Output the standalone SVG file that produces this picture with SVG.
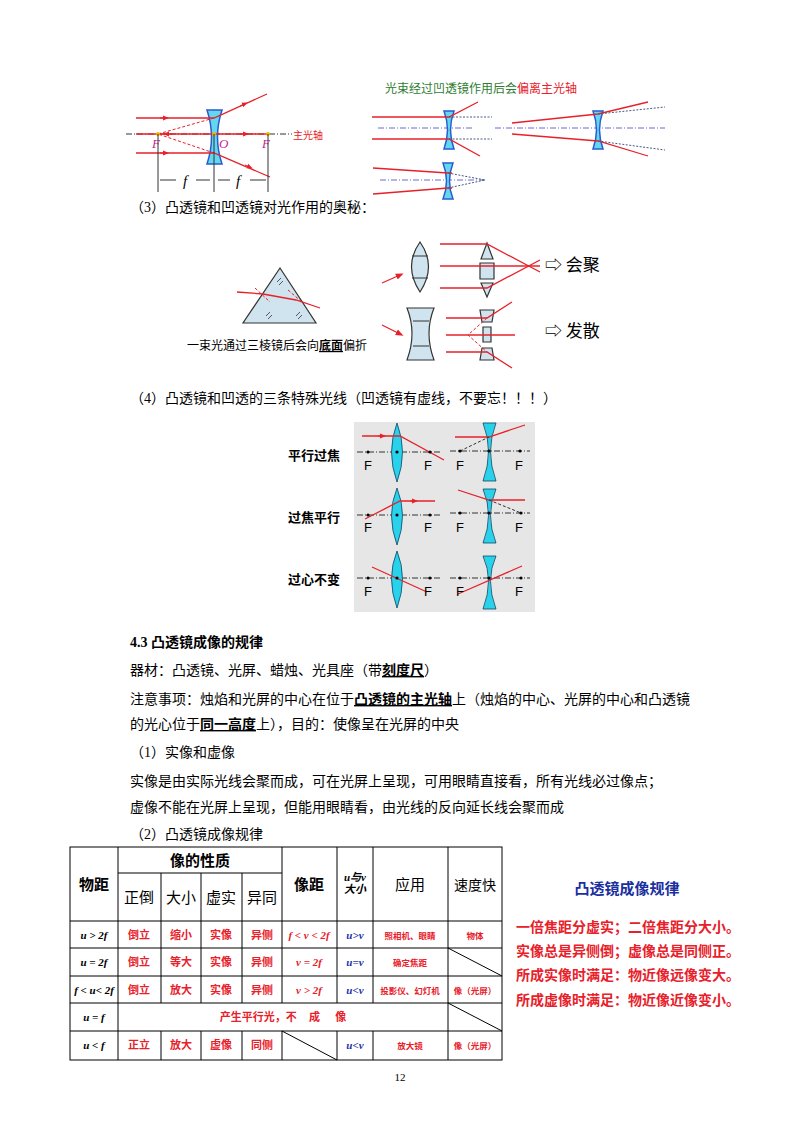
<svg xmlns="http://www.w3.org/2000/svg" width="800" height="1132" viewBox="0 0 800 1132">
<defs>
<marker id="ar" viewBox="0 0 10 10" refX="5" refY="5" markerWidth="6" markerHeight="6" orient="auto"><path d="M0,1 L10,5 L0,9 z" fill="#e8202a"/></marker>
<style>
text{font-family:"Liberation Serif","Noto Sans CJK SC",serif;fill:#000}
.t{font-size:14px}
.b{font-weight:bold;font-family:"Liberation Sans","Noto Sans CJK SC",sans-serif}
.r{stroke:#e8202a;stroke-width:1.3;fill:none}
.d{stroke:#e8202a;stroke-width:1;stroke-dasharray:3 2;fill:none}
.ax{stroke:#333;stroke-width:1;stroke-dasharray:6 2 1 2;fill:none}
.bax{stroke:#6b6bd6;stroke-width:1;stroke-dasharray:6 2 1 2;fill:none}
.bd{stroke:#4a5a80;stroke-width:1;stroke-dasharray:2 1.5;fill:none}
.lens{fill:#63d7ef;stroke:#2a5bd0;stroke-width:1.5}
.lensg{fill:#cfe4ee;stroke:#333;stroke-width:1.2}
.cy{fill:#28d2ea;stroke:#146;stroke-width:0.8}
.grid{stroke:#000;stroke-width:1;fill:none}
.red{fill:#e8202a;font-weight:bold;font-family:"Liberation Sans","Noto Sans CJK SC",sans-serif;font-size:11px}
.blu{fill:#2233aa;font-style:italic;font-weight:bold;font-size:11px}
.hd{font-size:15px;font-weight:bold}
.it{font-style:italic;font-weight:bold;font-size:11px}
.sf{font-family:"Liberation Sans",sans-serif;font-size:13px}
.arr{stroke:#e8202a;marker-end:url(#ar)}
</style>
</defs>
<rect width="800" height="1132" fill="#fff"/>

<g id="concave-main">
<line x1="126" y1="134" x2="292" y2="134" class="ax"/>
<path d="M207,110 L222,110 Q213,137 222,164 L207,164 Q216,137 207,110 z" class="lens"/>
<path d="M136,118 L214,118 L267,94" class="r"/><path d="M214,118 L158,134" class="d"/>
<path d="M136,153 L214,153 L270,177" class="r"/><path d="M214,153 L158,134" class="d"/>
<path d="M136,134 L268,134" class="r"/>
<path d="M160,118 l6,0" class="arr"/><path d="M160,153 l6,0" class="arr"/>
<path d="M240,106 l5,-2.2" class="arr"/><path d="M245,165 l5,2.2" class="arr"/>
<path d="M240,134 l6,0" class="arr"/><path d="M172,134 l-6,0" class="arr"/>
<circle cx="158" cy="134" r="2" fill="#f4b400"/><circle cx="214" cy="134" r="2" fill="#f4b400"/><circle cx="268" cy="134" r="2" fill="#f4b400"/>
<text x="152" y="148" font-size="13" font-style="italic" style="fill:#d02090">F</text>
<text x="219" y="148" font-size="13" font-style="italic" style="fill:#d02090">O</text>
<text x="262" y="148" font-size="13" font-style="italic" style="fill:#d02090">F</text>
<text x="293" y="139" font-size="10" style="fill:#e8202a">主光轴</text>
<path d="M158,134 V192 M214,134 V192 M268,134 V192" stroke="#333" fill="none"/>
<path d="M160,180 H176 M196,180 H210 M218,180 H230 M250,180 H266" stroke="#333"/>
<text x="183" y="186" font-size="15" font-style="italic">f</text><text x="236" y="186" font-size="15" font-style="italic">f</text>
</g>

<g id="concave-small">
<text x="385" y="93" font-size="12" style="fill:#2e7d32">光束经过凹透镜作用后会<tspan style="fill:#e8202a">偏离主光轴</tspan></text>
<line x1="378" y1="128" x2="472" y2="128" class="bax"/>
<path d="M444,111 L454,111 Q447,130 454,149 L444,149 Q451,130 444,111z" class="lens"/>
<path d="M372,117 L449,117 L478,102" class="r"/><path d="M449,117 H492" class="bd"/>
<path d="M372,139 L449,139 L480,156" class="r"/><path d="M449,139 H492" class="bd"/>
<line x1="495" y1="128" x2="665" y2="128" class="bax"/>
<path d="M593,111 L603,111 Q596,130 603,149 L593,149 Q600,130 593,111z" class="lens"/>
<path d="M512,123 L598,114 L648,102" class="r"/><path d="M598,114 L665,107" class="bd"/>
<path d="M512,134 L598,141 L648,156" class="r"/><path d="M598,141 L665,150" class="bd"/>
<line x1="380" y1="180" x2="485" y2="180" class="bax"/>
<path d="M443,163 L453,163 Q446,181 453,199 L443,199 Q450,181 443,163z" class="lens"/>
<path d="M373,168 L448,173 L452,173" class="r"/><path d="M448,173 L485,180" class="bd"/>
<path d="M373,194 L448,188 L452,188" class="r"/><path d="M448,188 L485,180" class="bd"/>
</g>

<text x="130" y="212" class="t">（3）凸透镜和凹透镜对光作用的奥秘：</text>

<g id="prism">
<path d="M280,268 L316,323 L243,323 z" fill="#cfe4ee" stroke="#333" stroke-width="1.2"/>
<path d="M237,292 L263,294 L296,300 L320,308" class="r"/>
<path d="M255,288 L270,302 M288,290 L302,302" class="d"/>
<path d="M277,282 l4,-4 M279,285 l4,-4 M266,316 l4,-4 M268,319 l4,-4 M296,316 l4,-4 M298,319 l4,-4" stroke="#555"/>
<text x="187" y="350" font-size="12">一束光通过三棱镜后会向<tspan font-weight="bold" text-decoration="underline">底面</tspan>偏折</text>
</g>

<g id="lens-group">
<path d="M420,242 Q437,266 420,292 Q403,266 420,242 z" class="lensg"/><path d="M412,256 H428 M412,278 H428" stroke="#333"/>
<path d="M407,308 L434,308 Q424,333 434,360 L407,360 Q417,333 407,308 z" class="lensg"/><path d="M413,321 H429 M413,346 H429" stroke="#333"/>
<path d="M382,283 L400,275" class="r" marker-end="url(#ar)"/><path d="M382,325 L400,334" class="r" marker-end="url(#ar)"/>
<path d="M487,243 L493,259 L481,259 z M480,263 H494 V279 H480 z M481,283 L493,283 L487,297 z" class="lensg"/>
<path d="M440,244 H487 L540,272" class="r"/><path d="M440,266 H540" class="r"/><path d="M440,288 H487 L540,260" class="r"/>
<path d="M480,310 H494 L492,322 H482 z M483,327 H491 V342 H483 z M482,348 H492 L494,360 H480 z" class="lensg"/>
<path d="M446,318 H487 L512,302" class="r"/><path d="M446,335 H515" class="r"/><path d="M446,352 H487 L512,368" class="r"/>
<path d="M487,318 L468,335 L487,352" class="d"/>
<text x="545" y="271" font-size="17" style="font-family:'Noto Sans CJK SC',sans-serif">⇨ 会聚</text>
<text x="545" y="337" font-size="17" style="font-family:'Noto Sans CJK SC',sans-serif">⇨ 发散</text>
</g>

<text x="130" y="403" class="t">（4）凸透镜和凹透的三条特殊光线（凹透镜有虚线，不要忘！！！）</text>

<g id="special-rays">
<rect x="354" y="422" width="181" height="190" fill="#e6e6e6"/>
<text x="288" y="460" class="b" font-size="13">平行过焦</text>
<text x="288" y="522" class="b" font-size="13">过焦平行</text>
<text x="288" y="584" class="b" font-size="13">过心不变</text>
<line x1="357" y1="452" x2="440" y2="452" class="ax"/><path d="M397,423 Q408,452 397,482 Q386,452 397,423z" class="cy"/>
<path d="M362,436 H400 L444,460" class="r"/><path d="M378,436 l5,0" class="arr"/>
<text x="364" y="470" class="sf">F</text><text x="424" y="470" class="sf">F</text><circle cx="368" cy="452" r="1.6"/><circle cx="430" cy="452" r="1.6"/><circle cx="397" cy="452" r="1.6"/>
<line x1="450" y1="451" x2="530" y2="451" class="ax"/><path d="M483,423 L496,423 Q485,451 496,481 L483,481 Q494,451 483,423z" class="cy"/>
<path d="M455,437 H489 L525,425" class="r"/><path d="M460,451 L489,437" stroke="#333" stroke-dasharray="3 2" fill="none"/>
<text x="456" y="470" class="sf">F</text><text x="515" y="470" class="sf">F</text><circle cx="460" cy="451" r="1.6"/><circle cx="489" cy="451" r="1.6"/><circle cx="520" cy="451" r="1.6"/>
<line x1="357" y1="515" x2="440" y2="515" class="ax"/><path d="M397,488 Q408,515 397,545 Q386,515 397,488z" class="cy"/>
<path d="M365,519 L400,501 H435" class="r"/><path d="M410,501 l5,0" class="arr"/>
<text x="364" y="532" class="sf">F</text><text x="424" y="532" class="sf">F</text><circle cx="368" cy="515" r="1.6"/><circle cx="430" cy="515" r="1.6"/><circle cx="397" cy="515" r="1.6"/>
<line x1="450" y1="513" x2="530" y2="513" class="ax"/><path d="M483,489 L496,489 Q485,515 496,543 L483,543 Q494,515 483,489z" class="cy"/>
<path d="M458,490 L489,500 H525" class="r"/><path d="M489,500 L521,513" stroke="#333" stroke-dasharray="3 2" fill="none"/>
<text x="456" y="532" class="sf">F</text><text x="515" y="532" class="sf">F</text><circle cx="460" cy="513" r="1.6"/><circle cx="489" cy="513" r="1.6"/><circle cx="521" cy="513" r="1.6"/>
<line x1="357" y1="578" x2="440" y2="578" class="ax"/><path d="M397,551 Q408,578 397,608 Q386,578 397,551z" class="cy"/>
<path d="M372,567 L427,592" class="r"/>
<text x="364" y="596" class="sf">F</text><text x="424" y="596" class="sf">F</text><circle cx="368" cy="578" r="1.6"/><circle cx="430" cy="578" r="1.6"/><circle cx="397" cy="578" r="1.6"/>
<line x1="450" y1="578" x2="530" y2="578" class="ax"/><path d="M483,556 L496,556 Q485,580 496,609 L483,609 Q494,580 483,556z" class="cy"/>
<path d="M458,594 L522,566" class="r"/>
<text x="456" y="596" class="sf">F</text><text x="515" y="596" class="sf">F</text><circle cx="460" cy="578" r="1.6"/><circle cx="489" cy="578" r="1.6"/><circle cx="521" cy="578" r="1.6"/>
</g>

<g id="text-43">
<text x="130" y="647" font-size="14" font-weight="bold">4.3 凸透镜成像的规律</text>
<text x="130" y="675" class="t">器材：凸透镜、光屏、蜡烛、光具座（带<tspan font-weight="bold" text-decoration="underline">刻度尺</tspan>）</text>
<text x="130" y="704" class="t">注意事项：烛焰和光屏的中心在位于<tspan font-weight="bold" text-decoration="underline">凸透镜的主光轴</tspan>上（烛焰的中心、光屏的中心和凸透镜</text>
<text x="130" y="729" class="t">的光心位于<tspan font-weight="bold" text-decoration="underline">同一高度</tspan>上），目的：使像呈在光屏的中央</text>
<text x="130" y="757" class="t">（1）实像和虚像</text>
<text x="130" y="786" class="t">实像是由实际光线会聚而成，可在光屏上呈现，可用眼睛直接看，所有光线必过像点；</text>
<text x="130" y="812" class="t">虚像不能在光屏上呈现，但能用眼睛看，由光线的反向延长线会聚而成</text>
<text x="130" y="839" class="t">（2）凸透镜成像规律</text>
</g>

<g id="table">
<rect x="70" y="847" width="432" height="213" class="grid" stroke-width="1.5"/>
<path d="M118,847 V1060 M282,847 V1003 M282,1031 V1060 M337,847 V1003 M337,1031 V1060 M373,847 V1003 M373,1031 V1060 M448,847 V1060" class="grid"/>
<path d="M161,873 V1003 M201,873 V1003 M242,873 V1003 M161,1031 V1060 M201,1031 V1060 M242,1031 V1060 M118,873 H282" class="grid"/>
<path d="M70,921 H502 M70,948 H502 M70,976 H502 M70,1003 H502 M70,1031 H502" class="grid"/>
<path d="M448,948 L502,976 M448,1003 L502,1031 M282,1031 L337,1060" class="grid"/>
<g text-anchor="middle">
<text x="94" y="890" class="hd">物距</text>
<text x="200" y="866" class="hd">像的性质</text>
<text x="139" y="903" font-size="15">正倒</text><text x="181" y="903" font-size="15">大小</text><text x="221" y="903" font-size="15">虚实</text><text x="262" y="903" font-size="15">异同</text>
<text x="309" y="890" class="hd">像距</text>
<text x="355" y="881" class="it" font-size="9">u与v</text><text x="355" y="893" class="it" font-size="9">大小</text>
<text x="410" y="890" font-size="15">应用</text>
<text x="475" y="890" font-size="14">速度快</text>
<text x="94" y="939" class="it">u &gt; 2f</text><text x="94" y="966" class="it">u = 2f</text><text x="94" y="994" class="it">f &lt; u&lt; 2f</text><text x="94" y="1021" class="it">u = f</text><text x="94" y="1049" class="it">u &lt; f</text>
<text x="139" y="939" class="red">倒立</text><text x="181" y="939" class="red">缩小</text><text x="221" y="939" class="red">实像</text><text x="262" y="939" class="red">异侧</text>
<text x="139" y="966" class="red">倒立</text><text x="181" y="966" class="red">等大</text><text x="221" y="966" class="red">实像</text><text x="262" y="966" class="red">异侧</text>
<text x="139" y="994" class="red">倒立</text><text x="181" y="994" class="red">放大</text><text x="221" y="994" class="red">实像</text><text x="262" y="994" class="red">异侧</text>
<text x="139" y="1049" class="red">正立</text><text x="181" y="1049" class="red">放大</text><text x="221" y="1049" class="red">虚像</text><text x="262" y="1049" class="red">同侧</text>
<text x="309" y="939" class="red" style="font-family:'Liberation Serif',serif;font-style:italic">f &lt; v &lt; 2f</text>
<text x="309" y="966" class="red" style="font-family:'Liberation Serif',serif;font-style:italic">v = 2f</text>
<text x="309" y="994" class="red" style="font-family:'Liberation Serif',serif;font-style:italic">v &gt; 2f</text>
<text x="355" y="939" class="blu">u&gt;v</text><text x="355" y="966" class="blu">u=v</text><text x="355" y="994" class="blu">u&lt;v</text><text x="355" y="1049" class="blu">u&lt;v</text>
<text x="410" y="939" class="red" style="font-size:8.5px">照相机、眼睛</text><text x="410" y="966" class="red" style="font-size:8.5px">确定焦距</text><text x="410" y="994" class="red" style="font-size:8.5px">投影仪、幻灯机</text><text x="410" y="1049" class="red" style="font-size:8.5px">放大镜</text>
<text x="475" y="939" class="red" style="font-size:8.5px">物体</text><text x="475" y="994" class="red" style="font-size:8.5px">像（光屏）</text><text x="475" y="1049" class="red" style="font-size:8.5px">像（光屏）</text>
<text x="283" y="1021" class="red" xml:space="preserve">产生平行光，不    成     像</text>
</g>
</g>

<g id="rule-summary" class="b">
<text x="627" y="894" text-anchor="middle" font-size="15" style="fill:#1a2fa0">凸透镜成像规律</text>
<text x="516" y="932" font-size="14" style="fill:#e8202a">一倍焦距分虚实；二倍焦距分大小。</text>
<text x="516" y="956" font-size="14" style="fill:#e8202a">实像总是异侧倒；虚像总是同侧正。</text>
<text x="516" y="980" font-size="14" style="fill:#e8202a">所成实像时满足：物近像远像变大。</text>
<text x="516" y="1005" font-size="14" style="fill:#e8202a">所成虚像时满足：物近像近像变小。</text>
</g>

<text x="400" y="1081" text-anchor="middle" font-size="11">12</text>
</svg>
